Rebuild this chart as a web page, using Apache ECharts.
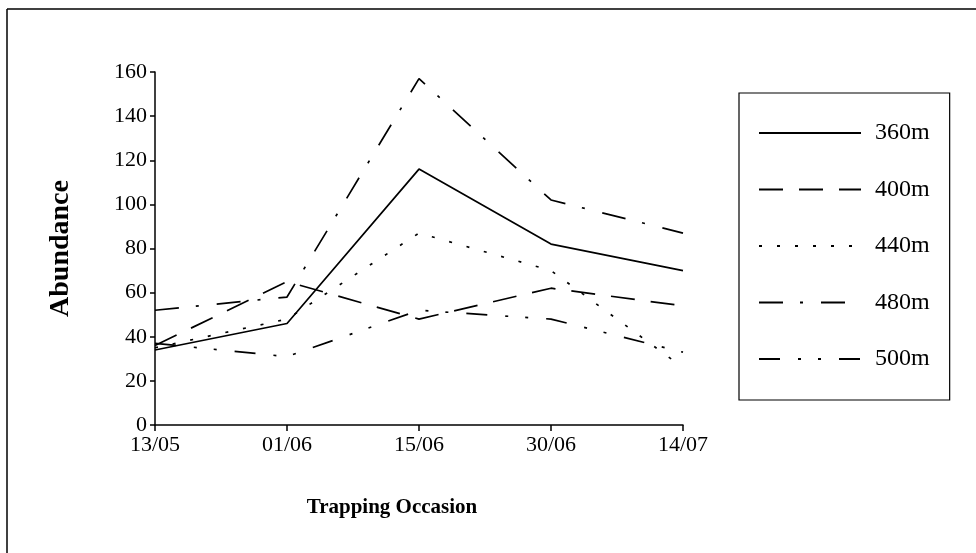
<!DOCTYPE html>
<html>
<head>
<meta charset="utf-8">
<script src="https://cdn.jsdelivr.net/npm/echarts@6/dist/echarts.min.js"></script>
<style>
html,body{margin:0;padding:0;background:#fff;}
#chart{width:976px;height:553px;}
</style>
</head>
<body>
<div id="chart"></div>
<script>
var categories = ['13/05', '01/06', '15/06', '30/06', '14/07'];
var seriesNames = ['360m', '400m', '440m', '480m', '500m'];
var m360 = [34, 46, 116, 82, 70];
var m400 = [36, 65, 48, 62, 54];
var m440 = [35, 48, 87, 70, 26];
var m480 = [52, 58, 157, 102, 87];
var m500 = [37, 31, 52, 48, 33];
var yTicks = [0, 20, 40, 60, 80, 100, 120, 140, 160];

var serif = "'Liberation Serif', 'Times New Roman', serif";
var dashes = [
  'solid',
  [24, 16],
  [3, 15],
  [24, 17, 3, 18],
  [21, 18, 3, 17, 3, 18]
];
var values = [m360, m400, m440, m480, m500];

var series = seriesNames.map(function (n, i) {
  return {
    name: n,
    type: 'line',
    data: values[i],
    symbol: 'none',
    showSymbol: false,
    silent: true,
    animation: false,
    lineStyle: { color: '#000', width: 1.7, type: dashes[i] },
    itemStyle: { color: '#000' }
  };
});

var chart = echarts.init(document.getElementById('chart'), null, { renderer: 'canvas' });
chart.setOption({
  backgroundColor: '#fff',
  animation: false,
  grid: { left: 155, right: 293, top: 72, bottom: 128 },
  xAxis: {
    type: 'category',
    data: categories,
    boundaryGap: false,
    name: 'Trapping Occasion',
    nameLocation: 'middle',
    nameGap: 72,
    nameTextStyle: { fontFamily: serif, fontWeight: 'bold', fontSize: 21, color: '#000', padding: [0, 54, 0, 0] },
    axisLine: { lineStyle: { color: '#000', width: 1.5 } },
    axisTick: { show: true, length: 6, lineStyle: { color: '#000', width: 1.5 } },
    axisLabel: { fontFamily: serif, fontSize: 22, color: '#000', margin: 9 },
    splitLine: { show: false }
  },
  yAxis: {
    type: 'value',
    min: yTicks[0],
    max: yTicks[yTicks.length - 1],
    interval: yTicks[1] - yTicks[0],
    name: 'Abundance',
    nameLocation: 'middle',
    nameGap: 80,
    nameRotate: 90,
    nameTextStyle: { fontFamily: serif, fontWeight: 'bold', fontSize: 28, color: '#000' },
    axisLine: { show: true, lineStyle: { color: '#000', width: 1.5 } },
    axisTick: { show: true, length: 5, lineStyle: { color: '#000', width: 1.5 } },
    axisLabel: { fontFamily: serif, fontSize: 22, color: '#000', margin: 8 },
    splitLine: { show: false }
  },
  legend: {
    orient: 'vertical',
    left: 739,
    top: 93,
    padding: [28, 20, 29, 19],
    itemWidth: 102,
    itemHeight: 24,
    itemGap: 32.5,
    borderColor: '#000',
    borderWidth: 1.2,
    selectedMode: false,
    data: seriesNames,
    itemStyle: { color: 'rgba(0,0,0,0)', borderColor: 'rgba(0,0,0,0)', borderWidth: 0 },
    textStyle: { fontFamily: serif, fontSize: 24, color: '#000', padding: [0, 0, 0, 9] }
  },
  graphic: [
    { type: 'line', shape: { x1: 7, y1: 9, x2: 976, y2: 9 }, style: { stroke: '#000', lineWidth: 1.5 }, silent: true },
    { type: 'line', shape: { x1: 7, y1: 9, x2: 7, y2: 553 }, style: { stroke: '#000', lineWidth: 1.5 }, silent: true }
  ],
  series: series
});
</script>
</body>
</html>
